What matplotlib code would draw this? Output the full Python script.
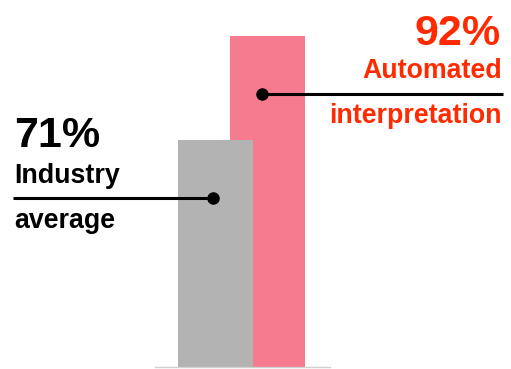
import matplotlib.pyplot as plt

# Data
labels = ["Industry\n\naverage", "Automated\n\ninterpretation"]
values = [71, 92]
value_text = ["71%", "92%"]
bar_colors = ["#b3b3b3", "#f77b8e"]
text_colors = ["#000000", "#ff2a00"]

base = 25.2          # value where the bars start
dot_drop = 11.7      # how far below the bar top the marker sits

fig = plt.figure(figsize=(5.11, 3.69), dpi=100)
ax = fig.add_axes([0, 0, 1, 1])
ax.set_xlim(-4.144, 5.683)
ax.set_ylim(24.8, 99.3)
ax.axis("off")

plt.rcParams["font.family"] = ["Liberation Sans", "DejaVu Sans"]

# Bars: the red one sits behind the gray one
x = [0, 1]
width = 1.44
ax.bar(x[1], values[1] - base, bottom=base, width=width, color=bar_colors[1], zorder=1)
ax.bar(x[0], values[0] - base, bottom=base, width=width, color=bar_colors[0], zorder=2)

# Baseline
ax.plot([-1.16, 2.2], [base, base], color="#d0d0d0", lw=1, zorder=3)

# Markers and leader lines
dot_x = [-0.05, 0.9]
line_end = [-3.89, 5.53]
for i in range(2):
    dy = values[i] - dot_drop
    ax.plot([dot_x[i], line_end[i]], [dy, dy], color="black", lw=2.2, zorder=4,
            solid_capstyle="butt")
    ax.plot(dot_x[i], dy, "o", color="black", ms=8, zorder=5)

# Labels
name_lines = [l.split("\n\n") for l in labels]
big, small = 31, 19.3
ax.text(14 / 511, 1 - 147 / 369, value_text[0], transform=ax.transAxes,
        fontsize=big, fontweight="bold", color=text_colors[0], ha="left", va="baseline")
ax.text(14 / 511, 1 - 183 / 369, name_lines[0][0], transform=ax.transAxes,
        fontsize=small, fontweight="bold", color=text_colors[0], ha="left", va="baseline")
ax.text(14 / 511, 1 - 228 / 369, name_lines[0][1], transform=ax.transAxes,
        fontsize=small, fontweight="bold", color=text_colors[0], ha="left", va="baseline")

ax.text(501 / 511, 1 - 45 / 369, value_text[1], transform=ax.transAxes,
        fontsize=big, fontweight="bold", color=text_colors[1], ha="right", va="baseline")
ax.text(502 / 511, 1 - 78 / 369, name_lines[1][0], transform=ax.transAxes,
        fontsize=small, fontweight="bold", color=text_colors[1], ha="right", va="baseline")
ax.text(502 / 511, 1 - 123 / 369, name_lines[1][1], transform=ax.transAxes,
        fontsize=small, fontweight="bold", color=text_colors[1], ha="right", va="baseline")

fig.savefig("out.png", dpi=100)
